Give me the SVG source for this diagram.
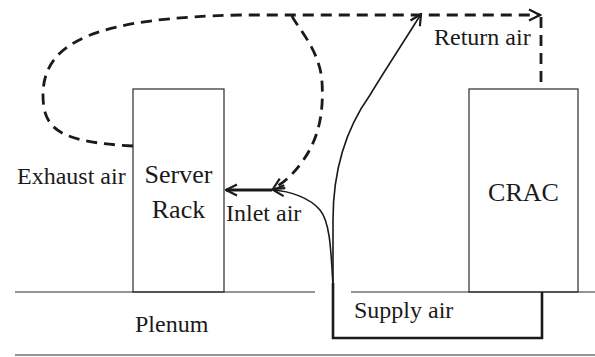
<svg xmlns="http://www.w3.org/2000/svg" width="595" height="357" viewBox="0 0 595 357">
  <style>
    .box { fill: none; stroke: #2a2a2a; stroke-width: 1.2; }
    .floor { fill: none; stroke: #2a2a2a; stroke-width: 1.2; }
    .duct { fill: none; stroke: #1a1a1a; stroke-width: 2.6; stroke-linejoin: miter; }
    .dash { fill: none; stroke: #1a1a1a; stroke-width: 2.8; stroke-dasharray: 11 7; }
    .flow { fill: none; stroke: #1a1a1a; stroke-width: 1.6; }
    .thick { fill: none; stroke: #1a1a1a; stroke-width: 3; }
    .lbl { font-family: "Liberation Serif", "Times New Roman", serif; font-size: 24px; fill: #1a1a1a; }
    .big { font-family: "Liberation Serif", "Times New Roman", serif; font-size: 26px; fill: #1a1a1a; text-anchor: middle; }
  </style>
  <defs>
    <marker id="arrow" viewBox="0 0 14 14" refX="12.5" refY="7" markerWidth="14" markerHeight="14" markerUnits="userSpaceOnUse" orient="auto">
      <path d="M1.5,1.5 L12.5,7 L1.5,12.5" fill="none" stroke="#1a1a1a" stroke-width="2.2" stroke-dasharray="none"/>
    </marker>
  </defs>

  <!-- raised floor and plenum -->
  <g id="plenum">
    <line class="floor" x1="15" y1="292" x2="315" y2="292"/>
    <line class="floor" x1="351" y1="292" x2="595" y2="292"/>
    <line class="floor" x1="15" y1="355" x2="595" y2="355"/>
    <text class="lbl" x="135" y="332">Plenum</text>
  </g>

  <g id="server-rack">
    <rect class="box" x="133" y="89" width="91" height="203"/>
    <text class="big" x="178.5" y="183">Server</text>
    <text class="big" x="178.5" y="218">Rack</text>
  </g>

  <g id="crac">
    <rect class="box" x="469" y="89" width="109" height="203"/>
    <text class="big" x="523.5" y="201">CRAC</text>
  </g>

  <g id="supply-duct">
    <path class="duct" d="M333,283 L333,338 L542,338 L542,292"/>
    <text class="lbl" x="354" y="318">Supply air</text>
  </g>

  <g id="connectors">
    <!-- hot exhaust loop back to the CRAC -->
    <path class="dash" d="M133,146 C60,142 43,130 43,95 C43,40 100,18 240,15 L540,15" marker-end="url(#arrow)"/>
    <line class="dash" x1="541" y1="17" x2="541" y2="82"/>
    <!-- recirculation branch into the inlet -->
    <path class="dash" d="M292,16 C297,27 320,50 322,82 C324,115 318,140 302,162 C294,173 285,182 273,189" marker-end="url(#arrow)"/>
    <!-- supply air rising from the perforated tile -->
    <path class="flow" d="M333,286 C331,250 330,222 320,210 C310,198 290,191 273,190" marker-end="url(#arrow)"/>
    <path class="flow" d="M333,286 L333,220 C333,170 345,130 370,95 C385,70 405,40 421,14" marker-end="url(#arrow)"/>
    <!-- inlet into the rack -->
    <line class="thick" x1="272" y1="190" x2="226" y2="190" marker-end="url(#arrow)"/>
  </g>

  <g id="labels">
    <text class="lbl" x="17" y="184">Exhaust air</text>
    <text class="lbl" x="226" y="221">Inlet air</text>
    <text class="lbl" x="434" y="45">Return air</text>
  </g>
</svg>
